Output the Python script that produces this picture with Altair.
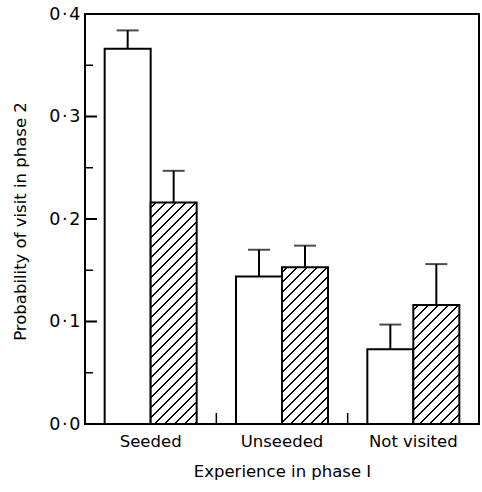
import altair as alt
import pandas as pd

# ---- data ----
categories = ["Seeded", "Unseeded", "Not visited"]
series = ["Open", "Hatched"]
open_values = [0.366, 0.144, 0.073]
open_upper = [0.384, 0.170, 0.097]
hatched_values = [0.216, 0.153, 0.116]
hatched_upper = [0.247, 0.174, 0.156]
major_ticks = [0.0, 0.1, 0.2, 0.3, 0.4]
minor_ticks = [0.05, 0.15, 0.25, 0.35]
separators = ["Unseeded", "Not visited"]

# ---- layout ----
PLOT_W, PLOT_H = 394, 410
Y_MAX = 0.4
BAR_W = 46.0
band = PLOT_W / len(categories)
pad_outer = (band / BAR_W - 2) / 2
FONT = "DejaVu Sans"

rows = []
for c, v, u in zip(categories, open_values, open_upper):
    rows.append({"cat": c, "grp": series[0], "v": v, "u": u})
for c, v, u in zip(categories, hatched_values, hatched_upper):
    rows.append({"cat": c, "grp": series[1], "v": v, "u": u})
df = pd.DataFrame(rows)

ticks_df = pd.DataFrame(
    [{"t": t, "kind": "major"} for t in major_ticks]
    + [{"t": t, "kind": "minor"} for t in minor_ticks]
)
sep_df = pd.DataFrame({"cat": separators})

xscale = alt.Scale(domain=categories, paddingInner=0, paddingOuter=0)
oscale = alt.Scale(domain=series, paddingInner=0, paddingOuter=pad_outer)
yscale = alt.Scale(domain=[0, Y_MAX], nice=False, zero=True)

x_enc = alt.X(
    "cat:N",
    scale=xscale,
    sort=categories,
    axis=alt.Axis(
        title="Experience in phase I",
        domain=False,
        ticks=False,
        tickSize=0,
        grid=False,
        labelAngle=0,
        labelFont=FONT,
        labelFontSize=16.5,
        labelColor="black",
        labelBaseline="alphabetic",
        labelPadding=22.5,
        titleFont=FONT,
        titleFontSize=16.5,
        titleFontWeight="normal",
        titleColor="black",
        titleX=PLOT_W / 2,
        titleY=52.5,
        titleBaseline="alphabetic",
    ),
)
y_enc = alt.Y(
    "v:Q",
    scale=yscale,
    axis=alt.Axis(
        title="Probability of visit in phase 2",
        values=major_ticks,
        labelExpr="replace(format(datum.value, '.1f'), '.', '\u200a\u00b7\u200a')",
        domain=False,
        ticks=False,
        tickSize=0,
        grid=False,
        labelFont=FONT,
        labelFontSize=17.5,
        labelColor="black",
        labelPadding=5,
        titleFont=FONT,
        titleFontSize=16.5,
        titleFontWeight="normal",
        titleColor="black",
        titleAngle=270,
        titleX=-65,
        titleY=PLOT_H / 2 + 2,
        titleBaseline="middle",
        titleAlign="center",
    ),
)
xo = alt.XOffset("grp:N", scale=oscale, sort=series)

base = alt.Chart(df)


def hatch(v, period=10.0, line=2.0):
    h = v / Y_MAX * PLOT_H
    w = BAR_W
    k = w / (w * w + h * h)
    total = w + h
    stops = [alt.GradientStop(offset=0, color="white")]
    s = period / 2
    while s < total:
        a = max(s - line / 2, 0) * k
        b = min(s + line / 2, total) * k
        stops += [
            alt.GradientStop(offset=a, color="white"),
            alt.GradientStop(offset=a, color="black"),
            alt.GradientStop(offset=b, color="black"),
            alt.GradientStop(offset=b, color="white"),
        ]
        s += period
    return alt.LinearGradient(gradient="linear", stops=stops, x1=0, y1=0, x2=1, y2=h / w)


open_bars = base.transform_filter(alt.datum.grp == series[0]).mark_bar(
    fill="white", stroke="black", strokeWidth=2
).encode(x=x_enc, xOffset=xo, y=y_enc)

hatched_layers = []
for c, v in zip(categories, hatched_values):
    hatched_layers.append(
        base.transform_filter((alt.datum.grp == series[1]) & (alt.datum.cat == c))
        .mark_bar(fill=hatch(v), stroke="black", strokeWidth=2)
        .encode(x=x_enc, xOffset=xo, y=y_enc)
    )

err = base.mark_rule(color="black", strokeWidth=2).encode(
    x=x_enc, xOffset=xo, y=y_enc, y2="u:Q"
)
caps = base.mark_tick(color="black", thickness=2, size=22, orient="horizontal").encode(
    x=x_enc, xOffset=xo, y=alt.Y("u:Q", scale=yscale)
)

major = alt.Chart(ticks_df).transform_filter(alt.datum.kind == "major").mark_rule(
    color="black", strokeWidth=2
).encode(y=alt.Y("t:Q", scale=yscale), x=alt.value(0), x2=alt.value(12))
minor = alt.Chart(ticks_df).transform_filter(alt.datum.kind == "minor").mark_rule(
    color="black", strokeWidth=1.5
).encode(y=alt.Y("t:Q", scale=yscale), x=alt.value(0), x2=alt.value(8))

seps = alt.Chart(sep_df).mark_rule(color="black", strokeWidth=1.5).encode(
    x=alt.X("cat:N", scale=xscale, bandPosition=0),
    y=alt.value(PLOT_H - 11),
    y2=alt.value(PLOT_H),
)

chart = alt.layer(open_bars, *hatched_layers, err, caps, major, minor, seps).properties(
    width=PLOT_W,
    height=PLOT_H,
    autosize=alt.AutoSizeParams(type="none"),
    padding={"left": 85, "top": 14, "right": 3, "bottom": 68},
    background="white",
).configure_view(stroke="black", strokeWidth=2)

chart.save("out.html", embed_options={"renderer": "svg", "actions": False})
